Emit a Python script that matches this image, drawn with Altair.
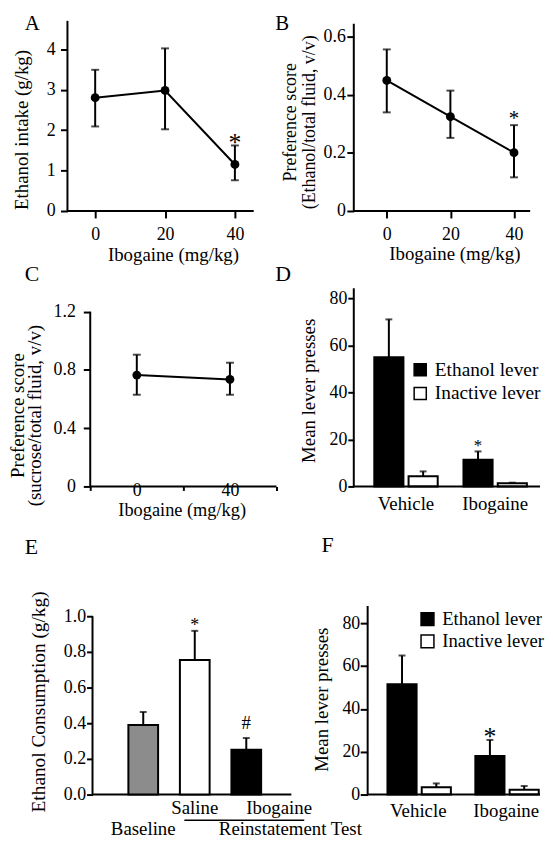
import altair as alt
import pandas as pd

FONT = "Liberation Serif"

# ---------------- data ----------------
# A: ethanol intake
doses_a = [0, 20, 40]
intake_mean = [2.80, 2.98, 1.15]
intake_lo = [2.09, 2.02, 0.76]
intake_hi = [3.49, 4.02, 1.62]
sig_a = ["", "", "*"]

# B: ethanol preference
doses_b = [0, 20, 40]
pref_mean = [0.450, 0.325, 0.201]
pref_lo = [0.340, 0.252, 0.116]
pref_hi = [0.557, 0.415, 0.296]
sig_b = ["", "", "*"]

# C: sucrose preference
doses_c = [0, 40]
sucrose_mean = [0.765, 0.735]
sucrose_lo = [0.630, 0.630]
sucrose_hi = [0.905, 0.850]
sig_c = ["", ""]

# D: operant self-administration
treatments = ["Vehicle", "Ibogaine"]
levers = ["Ethanol lever", "Inactive lever"]
d_treatment = ["Vehicle", "Vehicle", "Ibogaine", "Ibogaine"]
d_lever = ["Ethanol lever", "Inactive lever", "Ethanol lever", "Inactive lever"]
d_mean = [55.0, 4.3, 11.4, 1.4]
d_sem = [16.1, 2.1, 3.5, 0.2]
d_sig = ["", "", "*", ""]

# E: reinstatement consumption
e_groups = ["Baseline", "Saline", "Ibogaine"]
e_mean = [0.390, 0.755, 0.252]
e_sem = [0.073, 0.163, 0.065]
e_sig = ["", "*", "#"]
e_colors = ["#8c8c8c", "white", "black"]

# F: reinstatement lever presses
f_mean = [51.5, 3.4, 18.0, 2.2]
f_sem = [13.4, 1.8, 7.5, 1.8]
f_sig = ["", "", "*", ""]

# ---------------- frames ----------------
def line_df(d, m, lo, hi, sig):
    return pd.DataFrame({"dose": d, "mean": m, "lo": lo, "hi": hi, "sig": sig})

df_a = line_df(doses_a, intake_mean, intake_lo, intake_hi, sig_a)
df_b = line_df(doses_b, pref_mean, pref_lo, pref_hi, sig_b)
df_c = line_df(doses_c, sucrose_mean, sucrose_lo, sucrose_hi, sig_c)

def lever_df(m, s, sig):
    df = pd.DataFrame({"treatment": d_treatment, "lever": d_lever, "mean": m, "sem": s, "sig": sig})
    df["hi"] = df["mean"] + df["sem"]
    return df

df_d = lever_df(d_mean, d_sem, d_sig)
df_f = lever_df(f_mean, f_sem, f_sig)
df_e = pd.DataFrame({"group": e_groups, "mean": e_mean, "sem": e_sem, "sig": e_sig})
df_e["hi"] = df_e["mean"] + df_e["sem"]

ONE = alt.Data(values=[{}])
LINE = dict(color="black", strokeWidth=2)


def letter(ch, lx, ly, size=22):
    return alt.Chart(pd.DataFrame({"t": [ch]})).mark_text(
        font=FONT, fontSize=size, align="left", baseline="alphabetic", color="black"
    ).encode(text="t:N", x=alt.value(lx), y=alt.value(ly))


def line_panel(df, W, H, xdom, ydom, axis_x, axis_top, x_end, xaxis, yaxis, star, extra):
    xs = alt.Scale(domain=xdom, nice=False, zero=False)
    ys = alt.Scale(domain=ydom, nice=False, zero=False)
    base = alt.Chart(df)

    def xq():
        return alt.X("dose:Q", scale=xs, axis=xaxis)

    def yq(f):
        return alt.Y(f + ":Q", scale=ys, axis=yaxis)

    layers = [
        alt.Chart(ONE).mark_rule(**LINE).encode(
            x=alt.X(datum=axis_x, scale=xs, axis=xaxis),
            y=alt.Y(datum=0, scale=ys, axis=yaxis), y2=alt.Y2(datum=axis_top)),
        alt.Chart(ONE).mark_rule(**LINE).encode(
            x=alt.X(datum=axis_x, scale=xs, axis=xaxis), x2=alt.X2(datum=x_end),
            y=alt.Y(datum=0, scale=ys, axis=yaxis)),
        base.mark_line(color="black", strokeWidth=2).encode(x=xq(), y=yq("mean")),
        base.mark_rule(**LINE).encode(x=xq(), y=yq("lo"), y2="hi:Q"),
        base.mark_tick(color="black", orient="horizontal", size=8, thickness=2).encode(x=xq(), y=yq("lo")),
        base.mark_tick(color="black", orient="horizontal", size=8, thickness=2).encode(x=xq(), y=yq("hi")),
        base.mark_point(filled=True, color="black", size=80, opacity=1).encode(x=xq(), y=yq("mean")),
    ]
    if star is not None:
        fs, dy = star
        layers.append(base.transform_filter("datum.sig != ''").mark_text(
            font=FONT, fontSize=fs, dy=dy, baseline="alphabetic", color="black"
        ).encode(x=xq(), y=yq("hi"), text="sig:N"))
    layers += list(extra)
    return alt.layer(*layers).properties(width=W, height=H)


def lever_panel(df, W, H, ydom, band, axis_lx, axis_top, x_end_lx, xaxis, yaxis, legend, star, extra):
    xs = alt.Scale(domain=treatments, paddingInner=band[0], paddingOuter=band[1], align=band[2])
    xo = alt.Scale(domain=levers, paddingInner=0.15)
    ys = alt.Scale(domain=ydom, nice=False)
    base = alt.Chart(df)

    def xb():
        return alt.X("treatment:N", scale=xs, axis=xaxis)

    def yb(f):
        return alt.Y(f + ":Q", scale=ys, axis=yaxis)

    xoff = alt.XOffset("lever:N", scale=xo)
    layers = [
        base.mark_bar(stroke="black", strokeWidth=2).encode(
            x=xb(), xOffset=xoff, y=yb("mean"),
            fill=alt.Fill("lever:N", scale=alt.Scale(domain=levers, range=["black", "white"]), legend=legend)),
        base.mark_rule(**LINE).encode(x=xb(), xOffset=xoff, y=yb("mean"), y2="hi:Q"),
        base.mark_tick(color="black", orient="horizontal", size=7, thickness=2).encode(
            x=xb(), xOffset=xoff, y=yb("hi")),
        alt.Chart(ONE).mark_rule(**LINE).encode(
            x=alt.value(axis_lx), y=alt.Y(datum=0, scale=ys, axis=yaxis), y2=alt.Y2(datum=axis_top)),
        alt.Chart(ONE).mark_rule(**LINE).encode(
            x=alt.value(axis_lx), x2=alt.value(x_end_lx), y=alt.Y(datum=0, scale=ys, axis=yaxis)),
    ]
    fs, dy = star
    layers.append(base.transform_filter("datum.sig != ''").mark_text(
        font=FONT, fontSize=fs, dy=dy, baseline="alphabetic", color="black"
    ).encode(x=xb(), xOffset=xoff, y=yb("hi"), text="sig:N"))
    layers += list(extra)
    return alt.layer(*layers).properties(width=W, height=H)


DEC = "datum.value == 0 ? '0' : format(datum.value, '.1f')"

# ---------------- panel A ----------------
pA = line_panel(
    df_a, 271, 201, [-24.96, 51.91], [0, 4.923], -7.94, 4.70, 45.39,
    alt.Axis(values=[0, 20, 40], tickSize=7, labelBaseline="alphabetic", labelPadding=21.3,
             labelFontSize=18, domain=False, title="Ibogaine (mg/kg)", titleX=166.5, titleY=49.5,
             titleBaseline="alphabetic", titleFontSize=19),
    alt.Axis(values=[0, 1, 2, 3, 4], offset=-60, tickSize=7, labelPadding=5.5, labelFontSize=18,
             domain=False, title="Ethanol intake (g/kg)", titleX=-40, titleY=118.7, titleAngle=270,
             titleBaseline="alphabetic", titleFontSize=19),
    (26, 6), [letter("A", 17, 18, 21)])

# ---------------- panel B ----------------
pB = line_panel(
    df_b, 266, 201, [-34.67, 48.19], [0, 0.6865], -10.37, 0.6455, 45.08,
    alt.Axis(values=[0, 20, 40], tickSize=7, labelBaseline="alphabetic", labelPadding=21.3,
             labelFontSize=18, domain=False, title="Ibogaine (mg/kg)", titleX=179.5, titleY=48.5,
             titleBaseline="alphabetic", titleFontSize=19),
    alt.Axis(values=[0, 0.2, 0.4, 0.6], labelExpr=DEC, offset=-78, tickSize=7, labelPadding=1.5,
             labelFontSize=18, domain=False,
             title=["Preference score", "(Ethanol/total fluid, v/v)"], titleX=-58.5, titleY=111,
             titleAngle=270, titleBaseline="alphabetic", titleFontSize=18, titleLineHeight=19),
    (21, 0), [letter("B", -1.3, 18, 21)])

# ---------------- panel C ----------------
pC = line_panel(
    df_c, 271, 278, [-55.32, 60.0], [0, 1.8924], -20, 1.2, 60,
    alt.Axis(values=[-20, 0, 20, 40, 60], tickSize=4,
             tickOpacity={"condition": {"test": "datum.value == 0 || datum.value == 40", "value": 0}, "value": 1},
             labelExpr="datum.value == 0 || datum.value == 40 ? datum.label : ''",
             labelBaseline="alphabetic", labelPadding=5, labelFontSize=18, domain=False,
             title="Ibogaine (mg/kg)", titleX=175.3, titleY=29.8, titleBaseline="alphabetic", titleFontSize=18.5),
    alt.Axis(values=[0, 0.4, 0.8, 1.2], labelExpr=DEC, offset=-83, tickSize=7, labelPadding=8,
             labelFontSize=18, domain=False,
             title=["Preference score", "(sucrose/total fluid, v/v)"], titleX=-67, titleY=206,
             titleAngle=270, titleBaseline="alphabetic", titleFontSize=19, titleLineHeight=17),
    None, [letter("C", 17, 70.5)])

# ---------------- panel D ----------------
pD = lever_panel(
    df_d, 266, 278, [0, 117.24], (0.2889, 0.6222, 0.8813), 78, 84.35, 266,
    alt.Axis(title=None, ticks=False, tickSize=0, domain=False, labelBaseline="alphabetic",
             labelPadding=23, labelFontSize=19, labelAngle=0),
    alt.Axis(values=[0, 20, 40, 60, 80], offset=-78, tickSize=6, labelPadding=1, labelFontSize=18,
             domain=False, title="Mean lever presses", titleX=-40, titleY=181, titleAngle=270,
             titleBaseline="alphabetic", titleFontSize=19),
    alt.Legend(orient="none", legendX=135.3, legendY=150.5, title=None, symbolType="square",
               symbolSize=150, symbolStrokeColor="black", symbolStrokeWidth=1.5, labelFont=FONT,
               labelFontSize=19.5, labelColor="black", labelOffset=5, rowPadding=3, padding=0, labelLimit=0),
    (17, 0), [letter("D", -1.3, 71)])

# ---------------- panel E ----------------
# band range chosen so the three bars sit where the original figure puts them
xs_e = alt.Scale(domain=e_groups, range=[121.5, 255.5], paddingInner=0.423, paddingOuter=0)
ys_e = alt.Scale(domain=[0, 1.7278], nice=False)
xax_e = alt.Axis(
    title=None, ticks=False, tickSize=0, domain=False, labelAngle=0,
    labelExpr="datum.value == 'Baseline' ? '' : datum.label",
    labelAlign={"condition": {"test": "datum.value == 'Ibogaine'", "value": "left"}, "value": "center"},
    labelBaseline="alphabetic", labelPadding=19.5, labelFontSize=19)
yax_e = alt.Axis(
    values=[0, 0.2, 0.4, 0.6, 0.8, 1.0], format=".1f", offset=-85.3, tickSize=6, labelPadding=1,
    labelFontSize=18, domain=False, title="Ethanol Consumption (g/kg)", titleX=-48.3, titleY=217,
    titleAngle=270, titleBaseline="alphabetic", titleFontSize=19.5)
xe = alt.X("group:N", scale=xs_e, axis=xax_e)
base_e = alt.Chart(df_e)
pE = alt.layer(
    alt.Chart(ONE).mark_rule(**LINE).encode(
        x=alt.value(85.3), y=alt.Y(datum=0, scale=ys_e, axis=yax_e), y2=alt.Y2(datum=1.0)),
    alt.Chart(ONE).mark_rule(**LINE).encode(
        x=alt.value(85.3), x2=alt.value(286), y=alt.Y(datum=0, scale=ys_e, axis=yax_e)),
    base_e.mark_bar(stroke="black", strokeWidth=2).encode(
        x=xe, y=alt.Y("mean:Q", scale=ys_e, axis=yax_e),
        fill=alt.Fill("group:N", scale=alt.Scale(domain=e_groups, range=e_colors), legend=None)),
    base_e.mark_rule(**LINE).encode(x=xe, y=alt.Y("mean:Q", scale=ys_e, axis=yax_e), y2="hi:Q"),
    base_e.mark_tick(color="black", orient="horizontal", size=7, thickness=2).encode(
        x=xe, y=alt.Y("hi:Q", scale=ys_e, axis=yax_e)),
    base_e.transform_filter("datum.sig == '*'").mark_text(
        font=FONT, fontSize=18, baseline="alphabetic", color="black").encode(
        x=xe, y=alt.Y("hi:Q", scale=ys_e, axis=yax_e), text="sig:N"),
    base_e.transform_filter("datum.sig == '#'").mark_text(
        font=FONT, fontSize=19, dy=-9, baseline="alphabetic", color="black").encode(
        x=xe, y=alt.Y("hi:Q", scale=ys_e, axis=yax_e), text="sig:N"),
    base_e.transform_filter("datum.group == 'Baseline'").mark_text(
        font=FONT, fontSize=19, baseline="alphabetic", color="black").encode(
        x=xe, y=alt.value(352), text="group:N"),
    alt.Chart(pd.DataFrame({"t": ["Reinstatement Test"]})).mark_text(
        font=FONT, fontSize=19, align="center", baseline="alphabetic", color="black").encode(
        text="t:N", x=alt.value(285), y=alt.value(352)),
    alt.Chart(ONE).mark_rule(color="black", strokeWidth=1.5).encode(
        x=alt.value(178), x2=alt.value(299), y=alt.value(337)),
    letter("E", 17, 68),
).properties(width=271, height=311)

# ---------------- panel F ----------------
pF = lever_panel(
    df_f, 266, 311, [0, 143.82], (0.2976, 0.6482, 0.9739), 92, 88.0, 266,
    alt.Axis(title=None, ticks=False, tickSize=0, domain=False, labelBaseline="alphabetic",
             labelPadding=22, labelFontSize=19, labelAngle=0),
    alt.Axis(values=[0, 20, 40, 60, 80], offset=-92, tickSize=7.5, labelPadding=0.5, labelFontSize=18,
             domain=False, title="Mean lever presses", titleX=-41, titleY=214.7, titleAngle=270,
             titleBaseline="alphabetic", titleFontSize=19),
    alt.Legend(orient="none", legendX=143, legendY=124.5, title=None, symbolType="square",
               symbolSize=169, symbolStrokeColor="black", symbolStrokeWidth=1.5, labelFont=FONT,
               labelFontSize=18.8, labelColor="black", labelOffset=5.5, rowPadding=1.5, padding=0, labelLimit=0),
    (26, 5.6), [letter("F", 45.3, 66.5)])

chart = alt.concat(
    pA, pB, pC, pD, pE, pF, columns=2, spacing=0, bounds="flush", align="each"
).resolve_scale(fill="independent").resolve_legend(fill="independent").properties(
    padding=0, background="white"
).configure_view(stroke=None).configure_axis(
    labelFont=FONT, titleFont=FONT, labelColor="black", titleColor="black", tickColor="black",
    titleFontWeight="normal", grid=False, labelFlush=False, labelOverlap=False, tickWidth=2,
)

chart.save("out.html", embed_options={"renderer": "svg", "actions": False})
